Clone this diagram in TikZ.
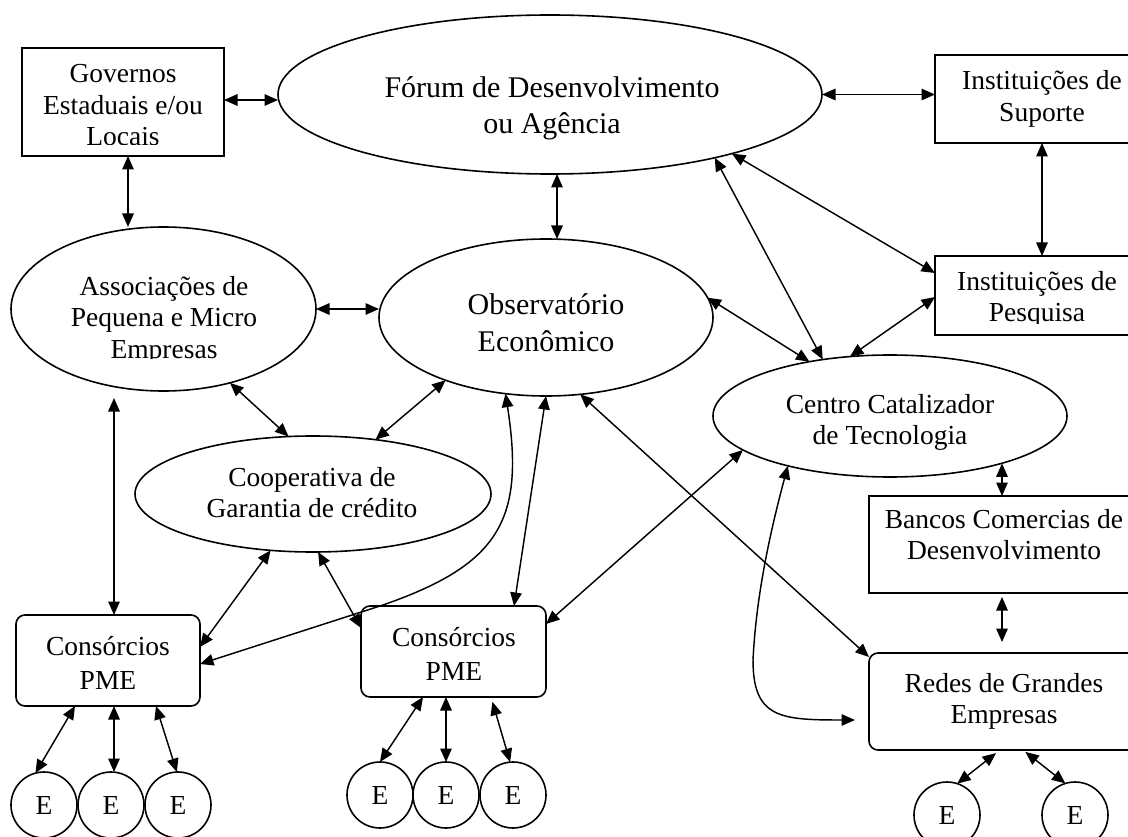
\documentclass[tikz,border=0pt]{standalone}
\usepackage{fontspec}
\setmainfont{Liberation Serif}
\usetikzlibrary{arrows.meta,shapes.geometric}

% centred multi-line text whose reference point is the first baseline
\newcommand\mlines[1]{\begin{tabular}[t]{@{}c@{}}#1\end{tabular}}

\begin{document}
\begin{tikzpicture}[x=1pt,y=-1pt,
  every node/.style={inner sep=0pt, outer sep=0pt},
  shapeline/.style={draw, line width=1.6pt},
  oval/.style={shapeline, ellipse},
  box/.style={shapeline, rectangle},
  rbox/.style={shapeline, rectangle, rounded corners=9pt},
  ent/.style={shapeline, circle, minimum size=66pt, font=\fontsize{27.5}{31.5}\selectfont},
  txt/.style={anchor=base, font=\fontsize{27.5}{31.5}\selectfont},
  widetxt/.style={anchor=base, font=\fontsize{27.5}{33.5}\selectfont},
  bigtxt/.style={anchor=base, font=\fontsize{30}{36}\selectfont},
  conn/.style={line width=1.45pt,
    {Triangle[length=13.5pt,width=11.5pt]}-{Triangle[length=13.5pt,width=11.5pt]}},
]
\useasboundingbox (0,0) rectangle (1128,837);

% ---- ellipses
\node[oval, minimum width=544pt, minimum height=159pt] (forum)  at (550,94.5) {};
\node[oval, minimum width=334pt, minimum height=157pt] (obs)    at (546,317.5) {};
\node[oval, minimum width=305pt, minimum height=164pt] (assoc)  at (163.5,309) {};
\node[oval, minimum width=356pt, minimum height=116pt] (coop)   at (313,494) {};
\node[oval, minimum width=354pt, minimum height=122pt] (centro) at (890,416) {};

% ---- boxes
\node[box,  minimum width=202pt, minimum height=108pt] (gov)    at (123,102) {};
\node[box,  minimum width=214pt, minimum height=88pt]  (sup)    at (1042,99) {};
\node[box,  minimum width=204pt, minimum height=79pt]  (pesq)   at (1037,295.5) {};
\node[box,  minimum width=270pt, minimum height=97pt]  (bancos) at (1004,544.5) {};
\node[rbox, minimum width=270pt, minimum height=97pt]  (redes)  at (1004,701.5) {};
\node[rbox, minimum width=184pt, minimum height=91pt]  (cons1)  at (108,660.5) {};
\node[rbox, minimum width=185pt, minimum height=91pt]  (cons2)  at (453.5,651.5) {};

% ---- firms
\node[ent] (e11) at (44,805) {E};
\node[ent] (e12) at (111,805) {E};
\node[ent] (e13) at (178,805) {E};
\node[ent] (e21) at (380,795) {E};
\node[ent] (e22) at (446,795) {E};
\node[ent] (e23) at (513,795) {E};
\node[ent] (re1) at (947,815) {E};
\node[ent] (re2) at (1075,815) {E};

% ---- labels
\node[bigtxt] (forumtxt) at (552,97.5) {\mlines{Fórum de Desenvolvimento\\ou Agência}};
\node[bigtxt] (obstxt) at (546,315) {\mlines{Observatório\\Econômico}};
\begin{scope}
  \clip (22,40) rectangle (224,144.3);
  \node[txt] (govtxt) at (123,83) {\mlines{Governos\\Estaduais e/ou\\Locais}};
\end{scope}
\node[txt] (suptxt) at (1042,90) {\mlines{Instituições de\\Suporte}};
\begin{scope}
  \clip (935,250) rectangle (1128,323.5);
  \node[txt] (pesqtxt) at (1037,290.5) {\mlines{Instituições de\\Pesquisa}};
\end{scope}
\begin{scope}
  \clip (0,260) rectangle (330,358.3);
  \node[txt] (assoctxt) at (164,295) {\mlines{Associações de\\Pequena e Micro\\Empresas}};
\end{scope}
\node[txt] (cooptxt) at (312,486) {\mlines{Cooperativa de\\Garantia de crédito}};
\node[txt] (centrotxt) at (890,413) {\mlines{Centro Catalizador\\de Tecnologia}};
\node[txt] (bancostxt) at (1004,528) {\mlines{Bancos Comercias de\\Desenvolvimento}};
\node[txt] (redestxt) at (1004,692) {\mlines{Redes de Grandes\\Empresas}};
\node[widetxt] (cons1txt) at (108,655.5) {\mlines{Consórcios\\PME}};
\node[widetxt] (cons2txt) at (454,646.5) {\mlines{Consórcios\\PME}};

% ---- connectors
\draw[conn] ([yshift=2pt]gov.east) -- ([yshift=2pt]gov.east -| forum.west);
\draw[conn] ([xshift=5pt]gov.south) -- ([xshift=5pt]gov.south |- assoc.north);
\draw[conn] (forum.east) -- (forum.east -| sup.west);
\draw[conn] ([xshift=7pt]forum.south) -- ([xshift=7pt]forum.south |- obs.north);
\draw[conn] (sup.south) -- (sup.south |- pesq.north);
\draw[conn] (forum.-18) -- ([yshift=22.5pt]pesq.west);
\draw[conn] (forum.-21) -- (centro.140);
\draw[conn] (obs.7) -- (centro.146);
\draw[conn] ([yshift=-1.5pt]pesq.west) -- (centro.124);
\draw[conn] (assoc.east) -- (assoc.east -| obs.west);
\draw[conn] (assoc.-48) -- (coop.113);
\draw[conn] (obs.212) -- (coop.41);
\draw[conn, shorten <=7pt] ([xshift=6pt]cons1.north |- assoc.south) -- ([xshift=6pt]cons1.north);
\draw[conn] (coop.233) -- ([yshift=13.5pt]cons1.east);
\draw[conn] (coop.-85) -- ([yshift=23.5pt]cons2.west);
\draw[conn] (obs.south) -- ([xshift=60.5pt]cons2.north);
\draw[conn] (obs.242) .. controls (525,520) and (500,565) .. (380,606)
  -- ([yshift=-3.5pt]cons1.east);
\draw[conn] (obs.-66) -- ([yshift=44.5pt]redes.west);
\draw[conn] (centro.193) -- ([yshift=27.5pt]cons2.east);
\draw[conn, shorten >=14pt] (centro.206) .. controls (768,540) and (756,600) .. (753,660)
  .. controls (753,718) and (780,720) .. ([yshift=-18.5pt]redes.west);
\draw[conn] ([xshift=-2pt]bancos.north) -- ([xshift=-2pt]bancos.north |- centro.-23);
\draw[conn, shorten <=4pt, shorten >=11pt] ([xshift=-2pt]bancos.south) -- ([xshift=-2pt]redes.north);
\draw[conn, shorten <=5pt] ([xshift=-4pt]redes.south) -- (re1.72);
\draw[conn, shorten <=3pt] ([xshift=19pt]redes.south) -- (re2.107);
\draw[conn] ([xshift=-33pt]cons1.south) -- (e11.105);
\draw[conn] ([xshift=6pt]cons1.south) -- ([xshift=6pt]cons1.south |- e12.north);
\draw[conn] ([xshift=48pt]cons1.south) -- (e13.92);
\draw[conn] ([xshift=-30.5pt]cons2.south) -- (e21.north);
\draw[conn] ([xshift=-7.5pt]cons2.south) -- ([xshift=-7.5pt]cons2.south |- e22.north);
\draw[conn, shorten <=5pt] ([xshift=37.5pt]cons2.south) -- (e23.95);
\end{tikzpicture}
\end{document}
